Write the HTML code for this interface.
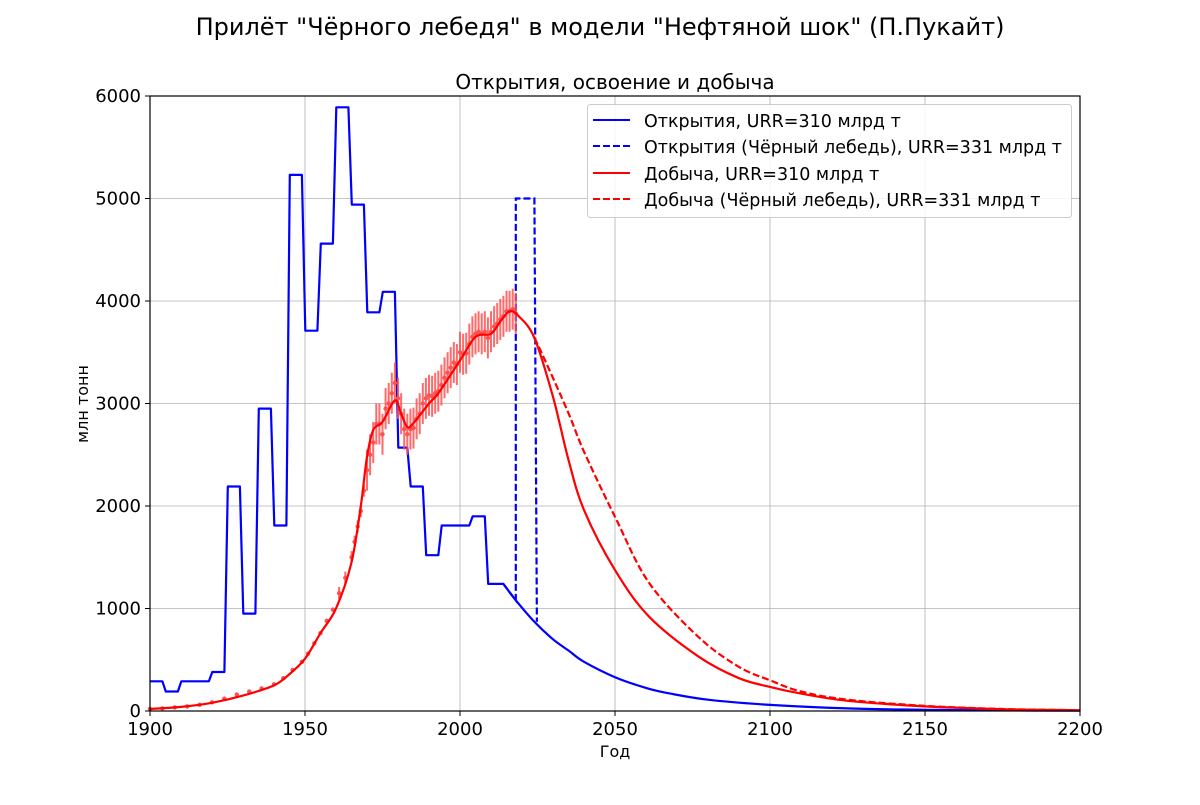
<!DOCTYPE html>
<html><head><meta charset="utf-8"><style>
body{margin:0;background:#fff;}
svg text{font-family:"DejaVu Sans","Liberation Sans",sans-serif;fill:#000;}
</style></head><body>
<svg id="chart" width="1200" height="800" xmlns="http://www.w3.org/2000/svg">
<text x="600" y="35" text-anchor="middle" font-size="24">Прилёт "Чёрного лебедя" в модели "Нефтяной шок" (П.Пукайт)</text>
<text x="615" y="89" text-anchor="middle" font-size="20">Открытия, освоение и добыча</text>
<g id="grid"></g>
<g id="series"></g>
<rect x="150" y="96" width="930" height="615" fill="none" stroke="#000" stroke-width="1.2"/>
<g id="axes"></g>
<text x="615" y="757" text-anchor="middle" font-size="16">Год</text>
<text transform="translate(88,404) rotate(-90)" text-anchor="middle" font-size="16">млн тонн</text>
<g>
<rect x="587.5" y="104.5" width="484" height="113" rx="3" fill="#fff" fill-opacity="0.85" stroke="#ccc"/>
<g><line x1="593" y1="120" x2="630" y2="120" stroke="#00f" stroke-width="2"/><text x="644" y="127" font-size="17.5">Открытия, URR=310 млрд т</text></g>
<g><line x1="593" y1="146" x2="630" y2="146" stroke="#00f" stroke-width="2" stroke-dasharray="7,3"/><text x="644" y="153" font-size="17.5">Открытия (Чёрный лебедь), URR=331 млрд т</text></g>
<g><line x1="593" y1="173" x2="630" y2="173" stroke="#f00" stroke-width="2"/><text x="644" y="180" font-size="17.5">Добыча, URR=310 млрд т</text></g>
<g><line x1="593" y1="199" x2="630" y2="199" stroke="#f00" stroke-width="2" stroke-dasharray="7,3"/><text x="644" y="206" font-size="17.5">Добыча (Чёрный лебедь), URR=331 млрд т</text></g>
</g>
</svg>
<script>
const xTicks=[1900,1950,2000,2050,2100,2150,2200];
const yTicks=[0,1000,2000,3000,4000,5000,6000];
const discYears=[1900,1905,1910,1920,1925,1930,1935,1940,1945,1950,1955,1960,1965,1970,1975,1980,1984,1989,1994,2004,2009];
const discValues=[290,190,290,380,2190,950,2950,1810,5230,3710,4560,5890,4940,3890,4090,2570,2190,1520,1810,1900,1240];
const decayYears=[2014,2018,2024,2030,2035,2040,2050,2060,2067,2080,2100,2125,2150,2175,2200];
const decayValues=[1240,1080,870,700,590,480,330,225,175,110,60,25,12,6,3];
const swanYears=[2018,2024];
const swanValue=5000;
const prodYears=[1900,1910,1920,1930,1940,1945,1950,1955,1960,1965,1968,1970,1972,1975,1979,1981,1983,1985,1990,1993,2000,2005,2010,2013,2016,2019,2024,2030,2035,2040,2050,2061,2077,2090,2100,2110,2125,2150,2175,2200];
const prodValues=[20,40,80,150,250,360,510,760,1000,1450,2000,2480,2740,2820,3030,2900,2770,2810,3000,3100,3420,3650,3680,3800,3900,3850,3640,3065,2450,1960,1375,920,530,320,235,170,100,45,18,8];
const swanProdYears=[2024,2027,2035,2040,2050,2061,2077,2090,2100,2110,2125,2150,2175,2200];
const swanProdValues=[3640,3450,2905,2530,1895,1250,720,430,300,190,110,50,20,8];
const obsYears=[1900,1904,1908,1912,1916,1920,1924,1928,1932,1936,1940,1943,1946,1949,1951,1953,1955,1957,1959,1961,1963,1965,1966,1967,1968,1969,1970,1971,1972,1973,1974,1975,1976,1977,1978,1979,1980,1981,1982,1983,1984,1985,1986,1987,1988,1989,1990,1991,1992,1993,1994,1995,1996,1997,1998,1999,2000,2001,2002,2003,2004,2005,2006,2007,2008,2009,2010,2011,2012,2013,2014,2015,2016,2017,2018];
const obsValues=[20,25,35,45,60,85,120,160,190,220,260,320,400,480,560,660,760,880,990,1150,1300,1500,1650,1800,1950,2150,2350,2500,2620,2800,2800,2700,2950,3000,3100,3200,3050,2900,2750,2700,2750,2760,2850,2900,3000,3050,3080,3070,3100,3120,3180,3250,3300,3350,3400,3380,3500,3480,3490,3580,3650,3680,3700,3680,3700,3640,3700,3750,3780,3820,3850,3900,3900,3920,3880];
const X=y=>150+(y-1900)*930/300;
const Y=v=>711-v*615/6000;
const NS="http://www.w3.org/2000/svg";
function mk(parent,tag,attrs){const e=document.createElementNS(NS,tag);for(const k in attrs)e.setAttribute(k,attrs[k]);parent.appendChild(e);return e;}
const grid=document.getElementById('grid'),axes=document.getElementById('axes'),ser=document.getElementById('series');
xTicks.forEach(t=>{
 const l=mk(grid,'line',{x1:X(t),x2:X(t),y1:96,y2:711,stroke:'#b0b0b0','stroke-width':0.8});
 
 
 mk(axes,'line',{x1:X(t),x2:X(t),y1:711,y2:716,stroke:'#000'});
 const tx=mk(axes,'text',{x:X(t),y:735,'text-anchor':'middle','font-size':18});tx.textContent=t;
 
 
});
yTicks.forEach(t=>{
 const l=mk(grid,'line',{x1:150,x2:1080,y1:Y(t),y2:Y(t),stroke:'#b0b0b0','stroke-width':0.8});
 
 
 mk(axes,'line',{x1:145,x2:150,y1:Y(t),y2:Y(t),stroke:'#000'});
 const tx=mk(axes,'text',{x:141,y:Y(t)+6,'text-anchor':'end','font-size':18});tx.textContent=t;
 
 
});
function path(pts){return pts.map((p,i)=>(i?'L':'M')+X(p[0]).toFixed(1)+','+Y(p[1]).toFixed(1)).join(' ');}
function smooth(pts){
 const P=pts.map(p=>[X(p[0]),Y(p[1])]);
 let d='M'+P[0][0].toFixed(1)+','+P[0][1].toFixed(1);
 for(let i=0;i<P.length-1;i++){
  const p0=P[i-1]||P[i],p1=P[i],p2=P[i+1],p3=P[i+2]||p2;
  const c1=[p1[0]+(p2[0]-p0[0])/6,p1[1]+(p2[1]-p0[1])/6];
  const c2=[p2[0]-(p3[0]-p1[0])/6,p2[1]-(p3[1]-p1[1])/6];
  d+=' C'+c1.map(v=>v.toFixed(1))+' '+c2.map(v=>v.toFixed(1))+' '+p2.map(v=>v.toFixed(1));
 }
 return d;
}
// swan dashed discovery
const swanPts=[[2014,1240],[2018,1080],[swanYears[0],swanValue],[swanYears[1],swanValue],[swanYears[1]+0.8,870]];
const sd=mk(ser,'path',{d:path(swanPts),fill:'none',stroke:'#00f','stroke-width':2.2,'stroke-dasharray':'7,3'});


// discovery steps
let d2=[];discYears.forEach((y,i)=>{const last=i+1>=discYears.length;const end=last?decayYears[0]:discYears[i+1];d2.push([i?y+0.1:y,discValues[i]]);d2.push([last?end:end-1,discValues[i]]);});
let dpath=path(d2)+' '+smooth(decayYears.map((y,i)=>[y,decayValues[i]])).replace('M','L');
const dl=mk(ser,'path',{d:dpath,fill:'none',stroke:'#00f','stroke-width':2.2,'stroke-linejoin':'round'});


// observed points with error bars
obsYears.forEach((y,i)=>{
 const v=obsValues[i],err=y>=1970?200:(y>=1960?60:15);
 const g=mk(ser,'g',{stroke:'#ff5050','stroke-opacity':0.85});
 
 
 mk(g,'line',{x1:X(y),x2:X(y),y1:Y(v-err),y2:Y(v+err),'stroke-width':2});
 mk(g,'circle',{cx:X(y),cy:Y(v),r:2.2,fill:'#ff5050',stroke:'none'});
});
const sp=mk(ser,'path',{d:smooth(swanProdYears.map((y,i)=>[y,swanProdValues[i]])),fill:'none',stroke:'#f00','stroke-width':2.2,'stroke-dasharray':'7,3'});


const pl=mk(ser,'path',{d:smooth(prodYears.map((y,i)=>[y,prodValues[i]])),fill:'none',stroke:'#f00','stroke-width':2.2,'stroke-linejoin':'round'});


</script>
</body></html>
